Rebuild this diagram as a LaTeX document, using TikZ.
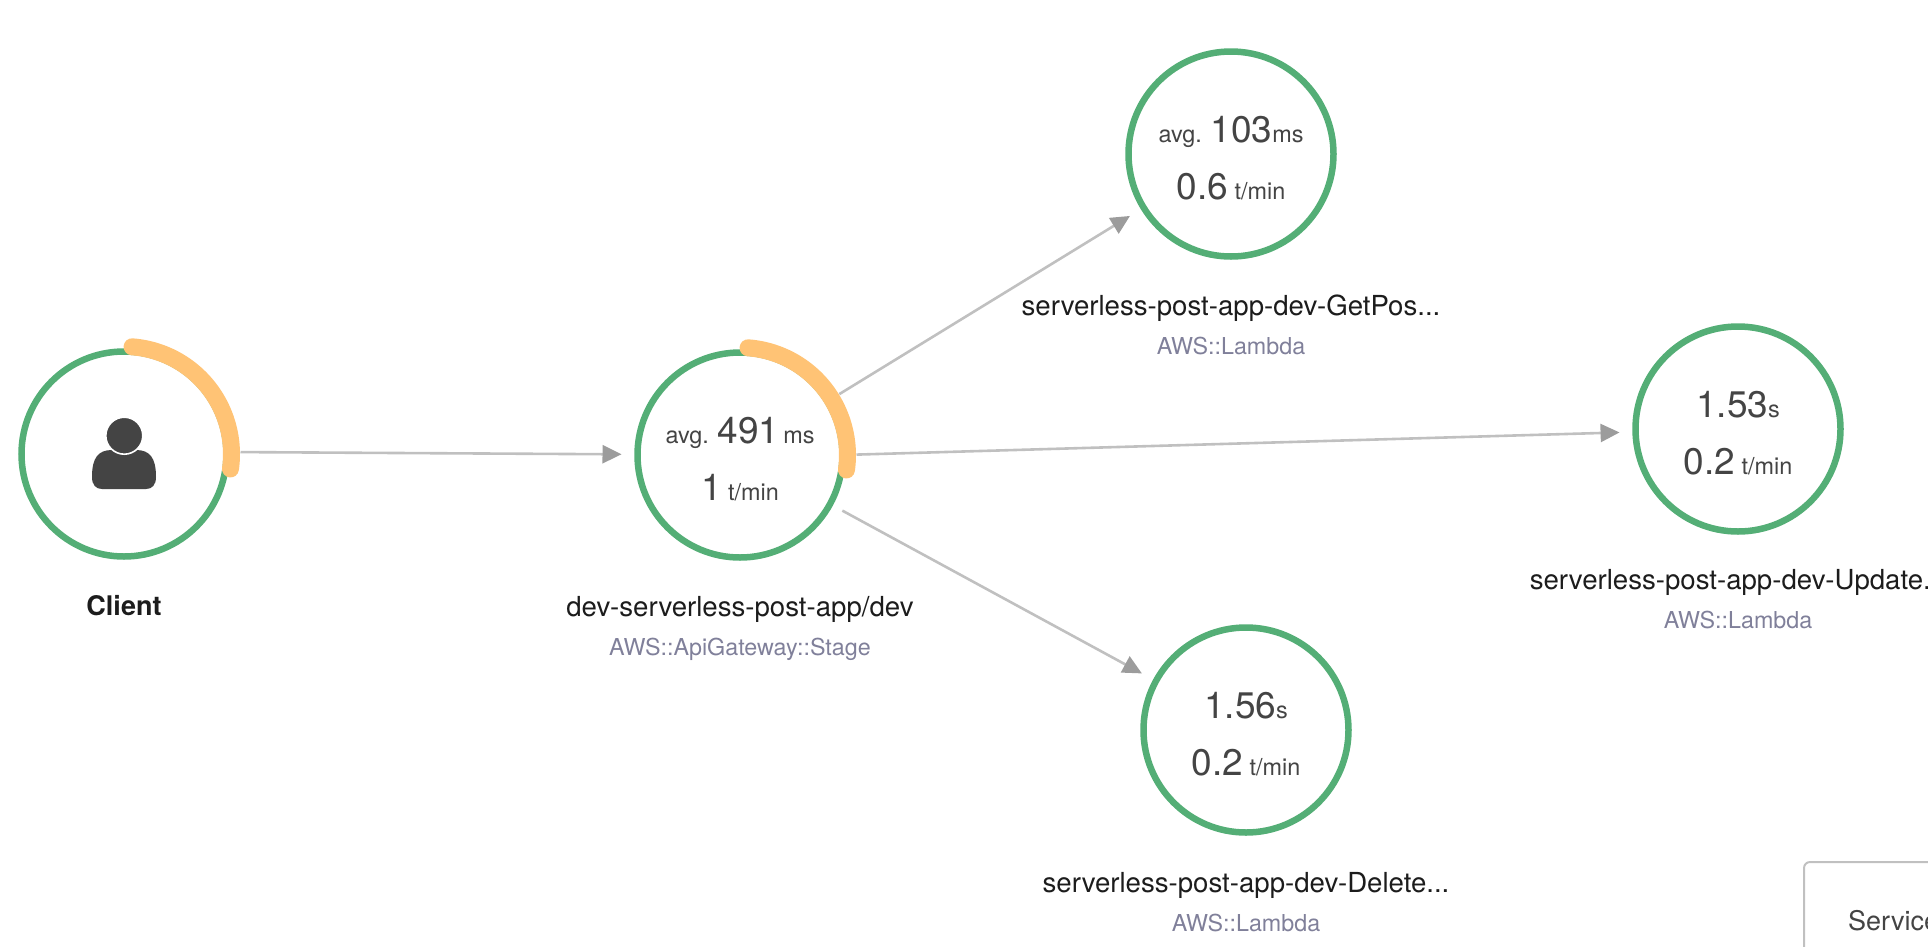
\documentclass[tikz,border=0pt]{standalone}
\usepackage{fontspec}
\usepackage{xcolor}
\usetikzlibrary{arrows.meta, positioning}
\setmainfont{TeX Gyre Heros}
\definecolor{okgreen}{RGB}{84, 174, 118}
\definecolor{slowamber}{RGB}{255, 195, 117}
\definecolor{linkgray}{RGB}{192, 192, 192}
\definecolor{tipgray}{RGB}{156, 156, 156}
\definecolor{metricink}{RGB}{68, 68, 68}
\definecolor{nameink}{RGB}{28, 28, 28}
\definecolor{typeink}{RGB}{128, 128, 154}
\newcommand{\unittext}[1]{{\fontsize{23.4}{28}\selectfont #1}}

\begin{document}
\begin{tikzpicture}[
    x=1pt, y=1pt,
    service/.style={
        circle, minimum size=205pt, inner sep=0pt, outer sep=0pt,
        draw=okgreen, line width=6.5pt, fill=white
    },
    slowarc/.style={
        draw=slowamber, line width=17pt, line cap=round
    },
    link/.style={
        -{Triangle[length=19pt, width=18pt, color=tipgray]},
        draw=linkgray, line width=2.6pt,
        shorten <=14pt, shorten >=16pt
    },
    metric/.style={
        anchor=base, inner sep=0pt, text=metricink,
        font=\fontsize{37}{44}\selectfont
    },
    svcname/.style={
        anchor=base, inner sep=0pt, text=nameink,
        font=\fontsize{27.6}{33}\selectfont
    },
    svctype/.style={
        anchor=base, inner sep=0pt, text=typeink,
        font=\fontsize{23.3}{28}\selectfont
    }
]
\path[use as bounding box, clip] (0,0) rectangle (1928,-946);

% Services
\node[service] (client) at (124, -454) {};
\node[service] (stage) at (740, -455) {};
\node[service] (getpost) at (1231, -154) {};
\node[service] (update) at (1738, -429) {};
\node[service] (delete) at (1246, -730) {};

% Calls
\draw[link] ([yshift=2]client.east) -- (stage);
\draw[link] (stage) -- (getpost);
\draw[link] (stage.east) -- (update);
\draw[link] (stage) -- (delete);

% Slow share of the ring
\draw[slowarc] ([shift={(85.7:107.5)}]client.center) arc[start angle=85.7, end angle=-8, radius=107.5];
\draw[slowarc] ([shift={(85.7:107.5)}]stage.center) arc[start angle=85.7, end angle=-8, radius=107.5];

% Client icon
\fill[metricink] (92,-477) .. controls (92,-458) and (98,-450) .. (112,-450)
    -- (136,-450) .. controls (150,-450) and (156,-458) .. (156,-477)
    .. controls (156,-485) and (152,-489) .. (146,-489) -- (102,-489)
    .. controls (96,-489) and (92,-485) .. (92,-477) -- cycle;
\node[circle, fill=metricink, draw=white, line width=1.6pt, minimum size=37pt, inner sep=0pt] (head) at (124.3, -435.7) {};

% Metrics
\node[metric] (stageavg) at ([yshift=12]stage.center) {\unittext{avg. }491\unittext{\,ms}};
\node[metric, below=57pt of stageavg.base, anchor=base] (stagerate) {1\unittext{ t/min}};
\node[metric] (getavg) at ([yshift=12]getpost.center) {\unittext{avg. }103\unittext{ms}};
\node[metric, below=57pt of getavg.base, anchor=base] (getrate) {0.6\unittext{ t/min}};
\node[metric] (updateavg) at ([yshift=12]update.center) {1.53\unittext{s}};
\node[metric, below=57pt of updateavg.base, anchor=base] (updaterate) {0.2\unittext{ t/min}};
\node[metric] (deleteavg) at ([yshift=12]delete.center) {1.56\unittext{s}};
\node[metric, below=57pt of deleteavg.base, anchor=base] (deleterate) {0.2\unittext{ t/min}};

% Names
\node[svcname, below=161pt of client.center, anchor=base, font=\fontsize{27}{33}\selectfont\bfseries] (clientname) {Client};
\node[svcname, below=161pt of stage.center, anchor=base] (stagename) {dev-serverless-post-app/dev};
\node[svctype, below=39pt of stagename.base, anchor=base] (stagetype) {AWS::ApiGateway::Stage};
\node[svcname, below=161pt of getpost.center, anchor=base] (getname) {serverless-post-app-dev-GetPos...};
\node[svctype, below=39pt of getname.base, anchor=base] (gettype) {AWS::Lambda};
\node[svcname, below=160pt of update.center, anchor=base] (updatename) {serverless-post-app-dev-Update...};
\node[svctype, below=39pt of updatename.base, anchor=base] (updatetype) {AWS::Lambda};
\node[svcname, below=162pt of delete.center, anchor=base] (deletename) {serverless-post-app-dev-Delete...};
\node[svctype, below=39pt of deletename.base, anchor=base] (deletetype) {AWS::Lambda};

% Panel cut by the edge
\node[draw=linkgray, line width=2pt, rounded corners=6pt, anchor=north west, minimum width=300pt, minimum height=200pt] (panel) at (1803, -861) {};
\node[anchor=base west, inner sep=0pt, text=metricink, font=\fontsize{27}{33}\selectfont] (paneltitle) at (1848, -930) {Service};

\end{tikzpicture}
\end{document}
